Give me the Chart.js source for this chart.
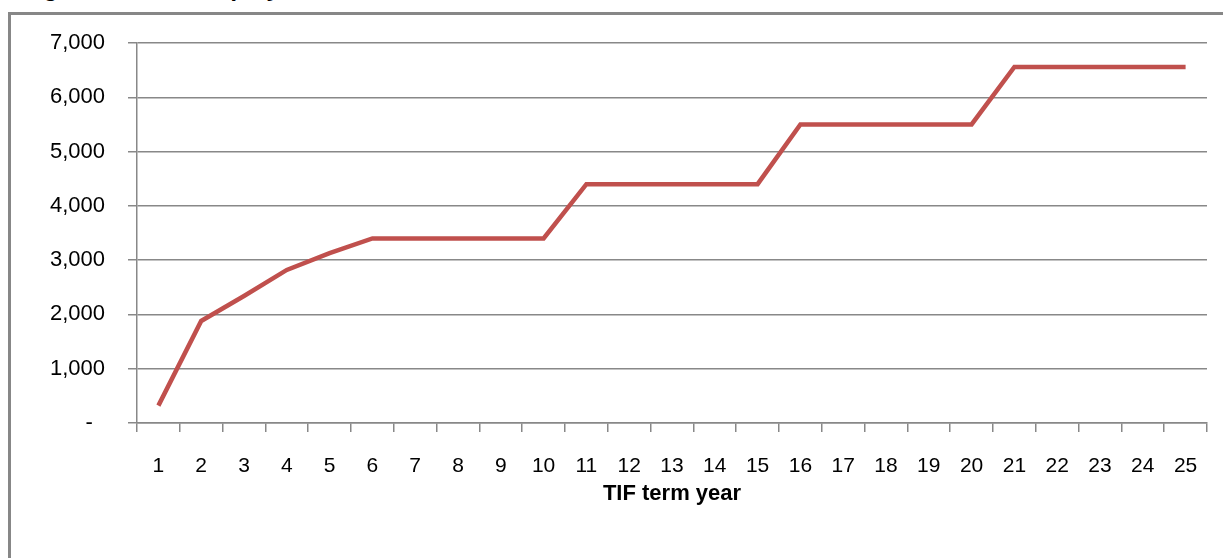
<!DOCTYPE html>
<html>
<head>
<meta charset="utf-8">
<script src="https://cdn.jsdelivr.net/npm/chart.js@4/dist/chart.umd.min.js"></script>
<style>
  html, body { margin: 0; padding: 0; background: #fff; overflow: hidden; }
  #wrap { position: relative; width: 1223px; height: 558px; overflow: hidden; }
  #frame {
    position: absolute; left: 8px; top: 12px; width: 1400px; height: 800px;
    border: 3px solid #878787; box-sizing: border-box;
  }
  #fig-title {
    position: absolute; left: 24px; top: -24px; margin: 0;
    font: italic bold 24px "Liberation Sans", Arial, sans-serif; color: #000;
    white-space: nowrap; line-height: 24px;
  }
  #chart { position: absolute; left: 0; top: 0; }
</style>
</head>
<body>
<div id="wrap">
  <div id="fig-title">Figure 4: Total Employment</div>
  <div id="frame"></div>
  <canvas id="chart" width="1223" height="558"></canvas>
</div>
<script>
// TIF term years and total employment
const years = ['1','2','3','4','5','6','7','8','9','10','11','12','13','14','15','16','17','18','19','20','21','22','23','24','25'];
const employment = [320, 1880, 2340, 2820, 3130, 3400, 3400, 3400, 3400, 3400,
                    4400, 4400, 4400, 4400, 4400, 5500, 5500, 5500, 5500, 5500,
                    6560, 6560, 6560, 6560, 6560];
const yTicks = [0, 1000, 2000, 3000, 4000, 5000, 6000, 7000];

const gridGray = '#888888';
const fontFamily = '"Liberation Sans", Arial, sans-serif';

document.addEventListener('DOMContentLoaded', () => {
    const ctx = document.getElementById('chart');

    new Chart(ctx, {
        type: 'line',
        data: {
            labels: years,
            datasets: [{
                label: 'Total employment',
                data: employment,
                borderColor: '#C0504D',
                borderWidth: 4.5,
                pointRadius: 0,
                tension: 0,
                fill: false
            }]
        },
        options: {
            responsive: false,
            animation: false,
            layout: { padding: { top: 43, right: 16, bottom: 0, left: 0 } },
            plugins: {
                legend: { display: false },
                tooltip: { enabled: false }
            },
            scales: {
                x: {
                    type: 'category',
                    offset: true,
                    grid: {
                        offset: true,
                        drawOnChartArea: false,
                        drawTicks: true,
                        tickLength: 9,
                        color: gridGray,
                        lineWidth: 1.5
                    },
                    border: { color: gridGray, width: 1.5 },
                    ticks: {
                        color: '#000',
                        font: { family: fontFamily, size: 21 },
                        padding: 22,
                        maxRotation: 0,
                        autoSkip: false
                    },
                    title: {
                        display: true,
                        text: 'TIF term year',
                        color: '#000',
                        font: { family: fontFamily, size: 22, weight: 'bold' },
                        padding: { top: 0, bottom: 51 }
                    },
                    afterFit: scale => { scale.height = 135; }
                },
                y: {
                    min: 0,
                    max: 7000,
                    afterBuildTicks: scale => {
                        scale.ticks = yTicks.map(v => ({ value: v }));
                    },
                    grid: {
                        color: gridGray,
                        lineWidth: 1.5,
                        drawTicks: true,
                        tickLength: 9
                    },
                    border: { color: gridGray, width: 1.5 },
                    ticks: {
                        color: '#000',
                        font: { family: fontFamily, size: 22 },
                        padding: 23,
                        callback: v => v === 0 ? '-  ' : v.toLocaleString('en-US')
                    },
                    afterFit: scale => { scale.width = 137; }
                }
            }
        }
    });
});
</script>
</body>
</html>
